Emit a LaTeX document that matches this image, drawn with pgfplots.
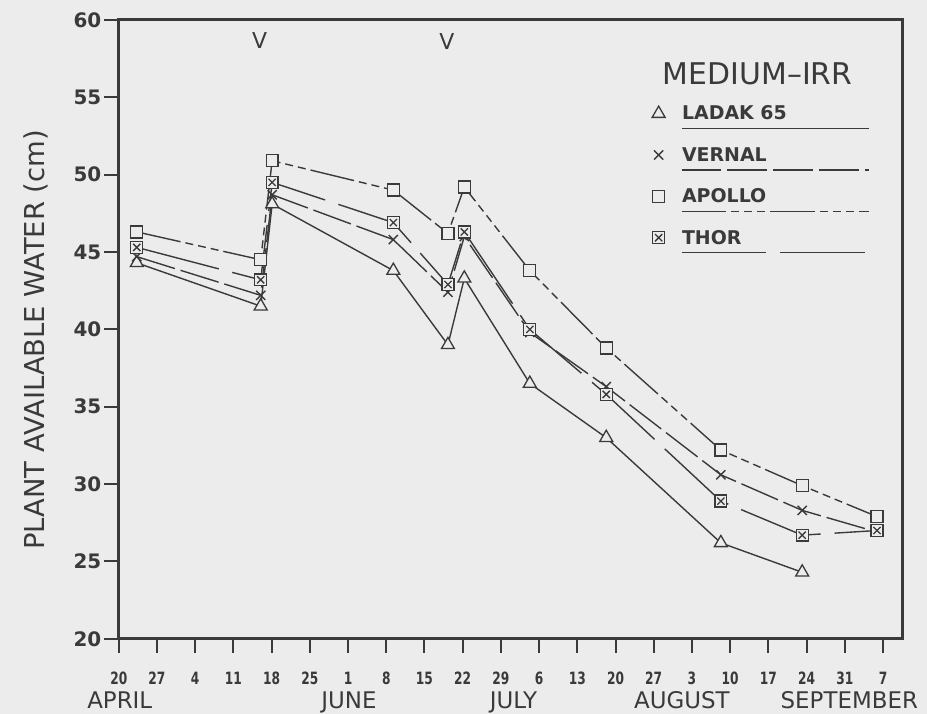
\documentclass[border=0pt]{standalone}
\usepackage{fontspec}
\setmainfont{DejaVu Sans}
\usepackage{graphicx}
\usepackage{pgfplots}
\pgfplotsset{compat=1.18}
\usetikzlibrary{calc}

\definecolor{bg}{RGB}{236,236,236}
\definecolor{ink}{RGB}{58,58,58}

\pgfdeclareplotmark{boxx}{%
  \pgfpathrectangle{\pgfpoint{-\pgfplotmarksize}{-\pgfplotmarksize}}{\pgfpoint{2\pgfplotmarksize}{2\pgfplotmarksize}}%
  \pgfusepathqfillstroke
  \pgfpathmoveto{\pgfpoint{-0.6\pgfplotmarksize}{-0.6\pgfplotmarksize}}%
  \pgfpathlineto{\pgfpoint{0.6\pgfplotmarksize}{0.6\pgfplotmarksize}}%
  \pgfpathmoveto{\pgfpoint{-0.6\pgfplotmarksize}{0.6\pgfplotmarksize}}%
  \pgfpathlineto{\pgfpoint{0.6\pgfplotmarksize}{-0.6\pgfplotmarksize}}%
  \pgfusepathqstroke
}
\newcommand\cx[1]{\scalebox{0.72}[1]{#1}}
\newcommand\ty[1]{\fontsize{20}{20}\selectfont\bfseries #1}

\begin{document}
\pagecolor{bg}
\begin{tikzpicture}
\path[use as bounding box] (0,0) rectangle (927pt,716pt);
\begin{axis}[
  at={(116pt,75pt)}, anchor=south west, scale only axis,
  width=786pt, height=621pt,
  xmin=0, xmax=143.5, ymin=20, ymax=60,
  axis line style={draw=ink, line width=3pt},
  tick align=outside, tick pos=left,
  major tick length=14pt,
  tick style={draw=ink, line width=2pt},
  xtick={0,7,...,140},
  xticklabels={\cx{20},\cx{27},\cx{4},\cx{11},\cx{18},\cx{25},\cx{1},\cx{8},\cx{15},\cx{22},\cx{29},\cx{6},\cx{13},\cx{20},\cx{27},\cx{3},\cx{10},\cx{17},\cx{24},\cx{31},\cx{7}},
  ytick={20,25,...,60},
  yticklabels={\ty{20},\ty{25},\ty{30},\ty{35},\ty{40},\ty{45},\ty{50},\ty{55},\ty{60}},
  xticklabel style={font=\fontsize{17}{17}\selectfont\bfseries, text=ink, yshift=-16pt},
  yticklabel style={text=ink},
  legend style={at={(rel axis cs:0.6807,0.8615)}, anchor=north west, draw=none, fill=none,
    inner sep=0pt, row sep=26pt, column sep=17pt,
    font=\fontsize{19}{19}\selectfont\bfseries, text=ink, nodes={inner sep=0pt}},
  legend cell align=left,
  legend image code/.code={%
    \draw[#1, only marks] plot coordinates {(0pt,0pt)};
    \draw[#1, overlay] (23pt,-15pt) -- (211pt,-15pt);
  },
]
\addplot[ink, line width=1.4pt, mark=triangle*, mark size=7.5pt, mark options={solid, fill=bg, line width=1.3pt}]
 coordinates {(3.3,44.3) (26,41.5) (28.1,48.1) (50.3,43.8) (60.3,39.0) (63.3,43.3) (75.3,36.5) (89.3,33.0) (110.3,26.2) (125.2,24.3)};
\addlegendentry{LADAK 65}
\addplot[ink, line width=1.4pt, dash pattern=on 40pt off 6pt, mark=x, mark size=6.5pt, mark options={solid, line width=1.4pt}]
 coordinates {(3.3,44.7) (26,42.2) (28.1,48.7) (50.3,45.8) (60.3,42.4) (63.3,46.0) (75.3,39.8) (89.3,36.3) (110.3,30.6) (125.2,28.3) (138.9,26.9)};
\addlegendentry{VERNAL}
\addplot[ink, line width=1.4pt, dash pattern=on 45pt off 5pt on 8pt off 5pt on 8pt off 5pt on 8pt off 5pt, mark=square*, mark size=6pt, mark options={solid, fill=bg, line width=1.3pt}]
 coordinates {(3.3,46.3) (26,44.5) (28.1,50.9) (50.3,49.0) (60.3,46.2) (63.3,49.2) (75.3,43.8) (89.3,38.8) (110.3,32.2) (125.2,29.9) (138.9,27.9)};
\addlegendentry{APOLLO}
\addplot[ink, line width=1.4pt, dash pattern=on 85pt off 14pt, mark=boxx, mark size=6pt, mark options={solid, fill=bg, line width=1.3pt}]
 coordinates {(3.3,45.3) (26,43.2) (28.1,49.5) (50.3,46.9) (60.3,42.9) (63.3,46.3) (75.3,40.0) (89.3,35.8) (110.3,28.9) (125.2,26.7) (138.9,27.0)};
\addlegendentry{THOR}
\node[font=\fontsize{22}{22}\selectfont, text=ink] at (axis cs:25.8,58.7) {V};
\node[font=\fontsize{22}{22}\selectfont, text=ink] at (axis cs:60.1,58.6) {V};
\coordinate (xa) at (axis cs:0,20);
\coordinate (xb) at (axis cs:140,20);
\coordinate (yb) at (axis cs:0,60);
\end{axis}
\foreach \i in {0,...,20} {\draw[ink, line width=2pt] ($(xa)!\i/20!(xb)$) -- ++(0pt,-14pt);}
\foreach \i in {0,...,8} {\draw[ink, line width=2pt] ($(xa)!\i/8!(yb)$) -- ++(-15pt,0pt);}
\node[font=\fontsize{30}{30}\selectfont, text=ink] at (757pt,642pt) {MEDIUM–IRR};
\node[rotate=90, font=\fontsize{27.5}{27.5}\selectfont, text=ink] at (33pt,375pt) {PLANT AVAILABLE WATER (cm)};
\begin{scope}[every node/.style={font=\fontsize{23}{23}\selectfont, text=ink, anchor=base}]
\node at (117pt,5pt) {APRIL};
\node at (347pt,5pt) {JUNE};
\node at (512pt,5pt) {JULY};
\node at (681pt,5pt) {AUGUST};
\node at (849pt,5pt) {SEPTEMBER};
\end{scope}
\end{tikzpicture}
\end{document}
